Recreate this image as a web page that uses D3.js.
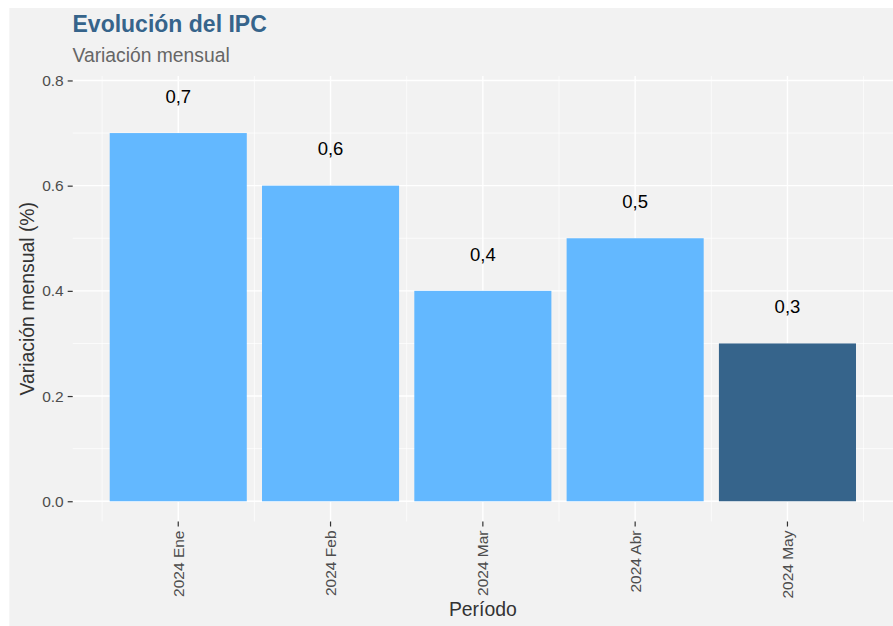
<!DOCTYPE html>
<html>
<head>
<meta charset="utf-8">
<script src="https://cdn.jsdelivr.net/npm/d3@7"></script>
<style>
  body { margin: 0; background: #ffffff; }
  text { font-family: "Liberation Sans", Arial, sans-serif; }
</style>
</head>
<body>
<div id="chart"></div>
<script>
// Datos
const periodos = ['2024 Ene', '2024 Feb', '2024 Mar', '2024 Abr', '2024 May'];
const variacion = [0.7, 0.6, 0.4, 0.5, 0.3];
const etiquetas = ['0,7', '0,6', '0,4', '0,5', '0,3'];
const yTicks = [0.0, 0.2, 0.4, 0.6, 0.8];
const yMinor = [0.1, 0.3, 0.5, 0.7];

const W = 893, H = 626;
const panel = { left: 72.7, right: 893, top: 76, bottom: 521.5 };

const svg = d3.select('#chart').append('svg')
  .attr('width', W)
  .attr('height', H);

// Fondo del gráfico
svg.append('rect')
  .attr('x', 9.3).attr('y', 8)
  .attr('width', W - 9.3).attr('height', H - 8)
  .attr('fill', '#f2f2f2');

// Escalas
const xScale = d3.scaleBand()
  .domain(periodos)
  .range([panel.left, panel.right])
  .paddingInner(0.1)
  .paddingOuter(0.243);

const step = xScale.step();
const xCenter = d => xScale(d) + xScale.bandwidth() / 2;

const yScale = d3.scaleLinear()
  .domain([-0.0385, 0.8085])
  .range([panel.bottom, panel.top]);

// Rejilla menor
svg.append('g').selectAll('line')
  .data(yMinor)
  .enter().append('line')
  .attr('x1', panel.left).attr('x2', panel.right)
  .attr('y1', d => yScale(d)).attr('y2', d => yScale(d))
  .attr('stroke', '#ffffff').attr('stroke-width', 0.7);

const xMinor = [xCenter(periodos[0]) - step / 2].concat(periodos.map(p => xCenter(p) + step / 2));
svg.append('g').selectAll('line')
  .data(xMinor)
  .enter().append('line')
  .attr('x1', d => d).attr('x2', d => d)
  .attr('y1', panel.top).attr('y2', panel.bottom)
  .attr('stroke', '#ffffff').attr('stroke-width', 0.7);

// Rejilla mayor
svg.append('g').selectAll('line')
  .data(yTicks)
  .enter().append('line')
  .attr('x1', panel.left).attr('x2', panel.right)
  .attr('y1', d => yScale(d)).attr('y2', d => yScale(d))
  .attr('stroke', '#ffffff').attr('stroke-width', 1.4);

svg.append('g').selectAll('line')
  .data(periodos)
  .enter().append('line')
  .attr('x1', d => xCenter(d)).attr('x2', d => xCenter(d))
  .attr('y1', panel.top).attr('y2', panel.bottom)
  .attr('stroke', '#ffffff').attr('stroke-width', 1.4);

// Barras
svg.append('g').selectAll('rect')
  .data(periodos)
  .enter().append('rect')
  .attr('x', d => xScale(d))
  .attr('width', xScale.bandwidth())
  .attr('y', (d, i) => yScale(variacion[i]))
  .attr('height', (d, i) => yScale(0) - yScale(variacion[i]))
  .attr('fill', (d, i) => i === periodos.length - 1 ? '#36648B' : '#63B8FF');

// Etiquetas de las barras
svg.append('g').selectAll('text')
  .data(periodos)
  .enter().append('text')
  .attr('x', d => xCenter(d))
  .attr('y', (d, i) => yScale(variacion[i] + 0.07))
  .attr('dy', '0.35em')
  .attr('text-anchor', 'middle')
  .attr('font-size', 18.5)
  .attr('fill', '#000000')
  .text((d, i) => etiquetas[i]);

// Eje Y
const yAxis = svg.append('g')
  .attr('transform', 'translate(' + panel.left + ',0)')
  .call(d3.axisLeft(yScale).tickValues(yTicks).tickFormat(d3.format('.1f')).tickSize(5).tickPadding(4));
yAxis.select('.domain').remove();
yAxis.selectAll('line').attr('stroke', '#333333').attr('stroke-width', 1.2);
yAxis.selectAll('text')
  .attr('font-size', 15.5)
  .attr('fill', '#4d4d4d')
  .style('font-family', '"Liberation Sans", Arial, sans-serif');

// Eje X
const xAxis = svg.append('g')
  .attr('transform', 'translate(0,' + panel.bottom + ')')
  .call(d3.axisBottom(xScale).tickSize(5).tickPadding(4));
xAxis.select('.domain').remove();
xAxis.selectAll('line').attr('stroke', '#333333').attr('stroke-width', 1.2);
xAxis.selectAll('text')
  .attr('font-size', 15.5)
  .attr('fill', '#4d4d4d')
  .attr('transform', 'rotate(-90)')
  .attr('x', -9)
  .attr('y', 0)
  .attr('dy', '0.35em')
  .attr('text-anchor', 'end')
  .style('font-family', '"Liberation Sans", Arial, sans-serif');

// Títulos
svg.append('text')
  .attr('x', 72.5).attr('y', 32.3)
  .attr('font-size', 23)
  .attr('font-weight', 'bold')
  .attr('fill', '#36648B')
  .text('Evolución del IPC');

svg.append('text')
  .attr('x', 72.5).attr('y', 62)
  .attr('font-size', 19.3)
  .attr('fill', '#666666')
  .text('Variación mensual');

svg.append('text')
  .attr('transform', 'translate(34,' + ((panel.top + panel.bottom) / 2) + ') rotate(-90)')
  .attr('text-anchor', 'middle')
  .attr('font-size', 19.4)
  .attr('fill', '#333333')
  .text('Variación mensual (%)');

svg.append('text')
  .attr('x', (panel.left + panel.right) / 2)
  .attr('y', 616)
  .attr('text-anchor', 'middle')
  .attr('font-size', 19.4)
  .attr('fill', '#333333')
  .text('Período');
</script>
</body>
</html>
